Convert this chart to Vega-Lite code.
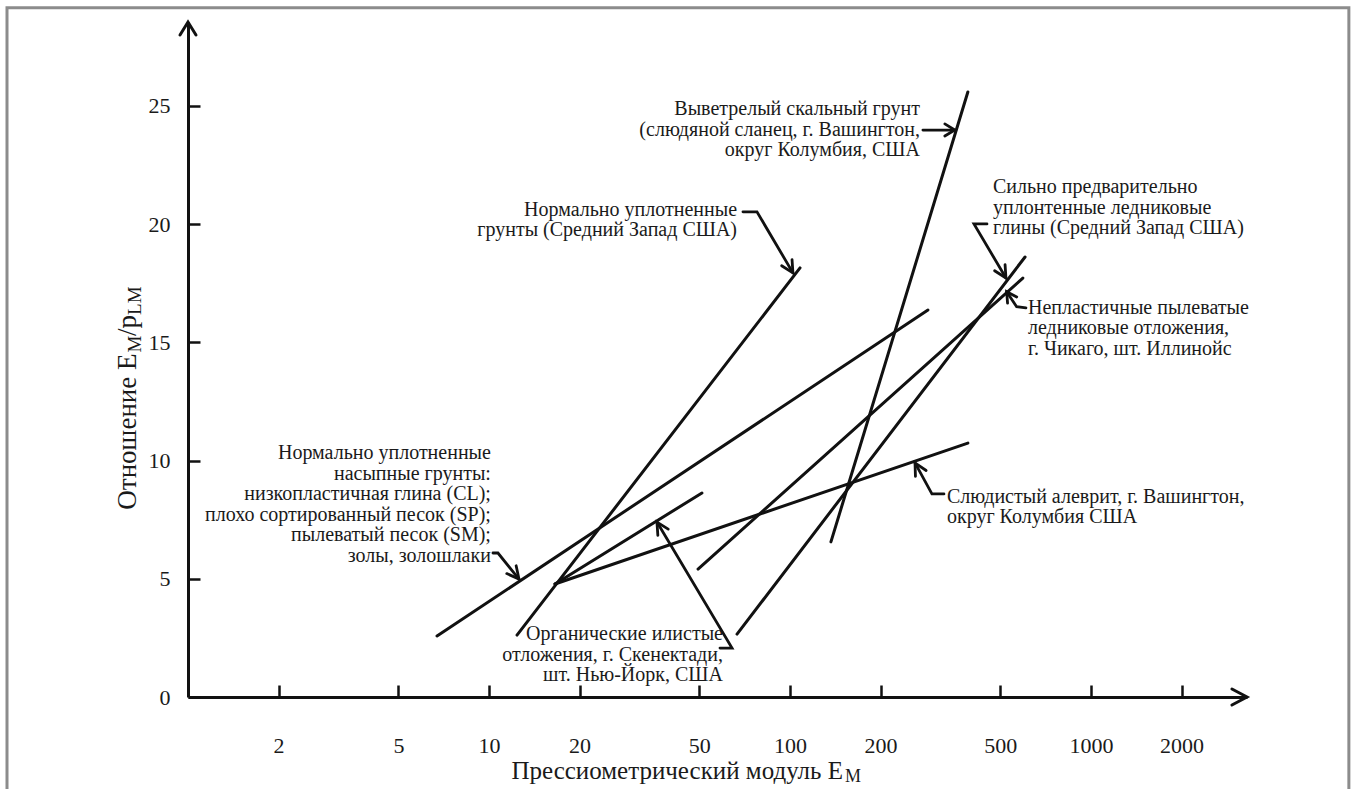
{
  "$schema": "https://vega.github.io/schema/vega-lite/v6.json",
  "width": 1059,
  "height": 675,
  "padding": {"left": 188, "top": 22, "right": 109, "bottom": 92},
  "autosize": {"type": "none"},
  "background": "white",
  "config": {
    "view": {"stroke": null},
    "font": "Liberation Serif",
    "axis": {"grid": false}
  },
  "datasets": {
    "soils": [
      {"series": "fill", "E": 6.72, "r": 2.58},
      {"series": "fill", "E": 287.4, "r": 16.37},
      {"series": "midwestNC", "E": 12.39, "r": 2.62},
      {"series": "midwestNC", "E": 108, "r": 18.15},
      {"series": "organic", "E": 16.57, "r": 4.78},
      {"series": "organic", "E": 51.0, "r": 8.63},
      {"series": "micaSilt", "E": 16.57, "r": 4.78},
      {"series": "micaSilt", "E": 390, "r": 10.74},
      {"series": "weatheredRock", "E": 136.8, "r": 6.56},
      {"series": "weatheredRock", "E": 390, "r": 25.59},
      {"series": "glacialClay", "E": 66.7, "r": 2.66},
      {"series": "glacialClay", "E": 604, "r": 18.61},
      {"series": "glacialSilt", "E": 49.5, "r": 5.41},
      {"series": "glacialSilt", "E": 594, "r": 17.72}
    ],
    "axisHeads": [
      {"id": "xHead", "i": 0, "E": 2941, "r": 0.34},
      {"id": "xHead", "i": 1, "E": 3300, "r": 0},
      {"id": "xHead", "i": 2, "E": 2941, "r": -0.34},
      {"id": "yHead", "i": 0, "E": 0.9407, "r": 28.0},
      {"id": "yHead", "i": 1, "E": 1, "r": 28.55},
      {"id": "yHead", "i": 2, "E": 1.063, "r": 28.0}
    ],
    "pointers": [
      {"id": "rock", "i": 0, "E": 276.5, "r": 23.98},
      {"id": "rock", "i": 1, "E": 353, "r": 23.98},
      {"id": "rockHead", "i": 0, "E": 327, "r": 24.24},
      {"id": "rockHead", "i": 1, "E": 353, "r": 23.98},
      {"id": "rockHead", "i": 2, "E": 327, "r": 23.73},
      {"id": "midwest", "i": 0, "E": 69.8, "r": 20.52},
      {"id": "midwest", "i": 1, "E": 77.7, "r": 20.52},
      {"id": "midwest", "i": 2, "E": 102.3, "r": 17.94},
      {"id": "midwestHead", "i": 0, "E": 101.6, "r": 18.5},
      {"id": "midwestHead", "i": 1, "E": 102.3, "r": 17.94},
      {"id": "midwestHead", "i": 2, "E": 93.85, "r": 18.24},
      {"id": "fill", "i": 0, "E": 10.31, "r": 6.09},
      {"id": "fill", "i": 1, "E": 10.71, "r": 6.09},
      {"id": "fill", "i": 2, "E": 12.58, "r": 4.99},
      {"id": "fillHead", "i": 0, "E": 12.31, "r": 5.55},
      {"id": "fillHead", "i": 1, "E": 12.58, "r": 4.99},
      {"id": "fillHead", "i": 2, "E": 11.46, "r": 5.22},
      {"id": "organic", "i": 0, "E": 58.55, "r": 2.07},
      {"id": "organic", "i": 1, "E": 64.2, "r": 2.07},
      {"id": "organic", "i": 2, "E": 36.15, "r": 7.4},
      {"id": "organicHead", "i": 0, "E": 39.4, "r": 7.1},
      {"id": "organicHead", "i": 1, "E": 36.15, "r": 7.4},
      {"id": "organicHead", "i": 2, "E": 36.4, "r": 6.84},
      {"id": "silt", "i": 0, "E": 324.8, "r": 8.59},
      {"id": "silt", "i": 1, "E": 296.3, "r": 8.59},
      {"id": "silt", "i": 2, "E": 260.3, "r": 9.9},
      {"id": "siltHead", "i": 0, "E": 283.4, "r": 9.58},
      {"id": "siltHead", "i": 1, "E": 260.3, "r": 9.9},
      {"id": "siltHead", "i": 2, "E": 261.2, "r": 9.33},
      {"id": "clay", "i": 0, "E": 451.4, "r": 20.01},
      {"id": "clay", "i": 1, "E": 408.7, "r": 20.01},
      {"id": "clay", "i": 2, "E": 522.0, "r": 17.72},
      {"id": "clayHead", "i": 0, "E": 518.4, "r": 18.29},
      {"id": "clayHead", "i": 1, "E": 522.0, "r": 17.72},
      {"id": "clayHead", "i": 2, "E": 478.6, "r": 18.03},
      {"id": "nonplastic", "i": 0, "E": 608.2, "r": 16.46},
      {"id": "nonplastic", "i": 1, "E": 566.4, "r": 16.51},
      {"id": "nonplastic", "i": 2, "E": 524.8, "r": 17.14},
      {"id": "nonplasticHead", "i": 0, "E": 566.9, "r": 16.92},
      {"id": "nonplasticHead", "i": 1, "E": 524.8, "r": 17.14},
      {"id": "nonplasticHead", "i": 2, "E": 528.4, "r": 16.66}
    ],
    "notesRight": [
      {"t": "Нормально уплотненные\nнасыпные грунты:\nнизкопластичная глина (CL);\nплохо сортированный песок (SP);\nпылеватый песок (SM);\nзолы, золошлаки", "E": 10.15, "r": 10.32},
      {"t": "Выветрелый  скальный грунт\n(слюдяной сланец, г. Вашингтон,\nокруг Колумбия, США", "E": 270.4, "r": 24.87},
      {"t": "Нормально уплотненные\nгрунты (Средний Запад США)", "E": 66.7, "r": 20.6},
      {"t": "Органические илистые\nотложения, г. Скенектади,\nшт. Нью-Йорк, США", "E": 59.9, "r": 2.66}
    ],
    "notesLeft": [
      {"t": "Сильно предварительно\nуплонтенные ледниковые\nглины (Средний Запад США)", "E": 472.6, "r": 21.57},
      {"t": "Непластичные пылеватые\nледниковые отложения,\nг. Чикаго, шт. Иллинойс", "E": 617.6, "r": 16.46},
      {"t": "Слюдистый алеврит, г. Вашингтон,\nокруг Колумбия США", "E": 332.4, "r": 8.46}
    ],
    "frame": [
      {"E": 0.2504, "E2": 7194, "r": 29.15, "r2": -4.36}
    ],
    "xTitle": [
      {"t": "Прессиометрический модуль E", "E": 150.0, "r": -3.13}
    ],
    "xTitleSub": [
      {"t": "M", "E": 152.3, "r": -3.38}
    ],
    "yTitle": [
      {"t": "Отношение E", "E": 0.632, "r": 14.53, "part": "end"},
      {"t": "/p", "E": 0.632, "r": 15.27, "part": "start"}
    ],
    "yTitleSub": [
      {"t": "M", "E": 0.6667, "r": 14.57},
      {"t": "LM", "E": 0.6667, "r": 16.16}
    ]
  },
  "encoding": {
    "x": {
      "field": "E",
      "type": "quantitative",
      "scale": {"type": "log", "domain": [1, 3300]},
      "axis": {
        "values": [2, 5, 10, 20, 50, 100, 200, 500, 1000, 2000],
        "format": "d",
        "title": null,
        "domainColor": "#111111",
        "domainWidth": 3,
        "tickColor": "#111111",
        "tickWidth": 2.5,
        "tickSize": -12,
        "labelPadding": 50,
        "labelFont": "Liberation Serif",
        "labelFontSize": 22,
        "labelColor": "#1a1a1a",
        "labelFlush": false,
        "labelOverlap": false
      }
    },
    "y": {
      "field": "r",
      "type": "quantitative",
      "scale": {"domain": [0, 28.55]},
      "axis": {
        "values": [0, 5, 10, 15, 20, 25],
        "title": null,
        "domainColor": "#111111",
        "domainWidth": 3,
        "tickColor": "#111111",
        "tickWidth": 2.5,
        "tickSize": -12,
        "labelPadding": 30,
        "labelFont": "Liberation Serif",
        "labelFontSize": 22,
        "labelColor": "#1a1a1a",
        "labelFlush": false,
        "labelOverlap": false
      }
    }
  },
  "layer": [
    {
      "data": {"name": "frame"},
      "mark": {"type": "rect", "fill": null, "stroke": "#8c8c8c", "strokeWidth": 3},
      "encoding": {
        "x2": {"field": "E2"},
        "y2": {"field": "r2"}
      }
    },
    {
      "data": {"name": "axisHeads"},
      "mark": {"type": "line", "color": "#111111", "strokeWidth": 3, "strokeCap": "round", "strokeJoin": "miter"},
      "encoding": {
        "detail": {"field": "id"},
        "order": {"field": "i"}
      }
    },
    {
      "data": {"name": "soils"},
      "mark": {"type": "line", "color": "#111111", "strokeWidth": 3, "strokeCap": "round"},
      "encoding": {
        "detail": {"field": "series"}
      }
    },
    {
      "data": {"name": "pointers"},
      "mark": {"type": "line", "color": "#111111", "strokeWidth": 2.8, "strokeCap": "round", "strokeJoin": "miter"},
      "encoding": {
        "detail": {"field": "id"},
        "order": {"field": "i"}
      }
    },
    {
      "data": {"name": "notesRight"},
      "mark": {"type": "text", "align": "right", "baseline": "middle", "lineBreak": "\n", "font": "Liberation Serif", "fontSize": 20, "lineHeight": 20.5, "color": "#1a1a1a"},
      "encoding": {"text": {"field": "t"}}
    },
    {
      "data": {"name": "notesLeft"},
      "mark": {"type": "text", "align": "left", "baseline": "middle", "lineBreak": "\n", "font": "Liberation Serif", "fontSize": 20, "lineHeight": 20.5, "color": "#1a1a1a"},
      "encoding": {"text": {"field": "t"}}
    },
    {
      "data": {"name": "xTitle"},
      "mark": {"type": "text", "align": "right", "baseline": "middle", "font": "Liberation Serif", "fontSize": 25, "color": "#1a1a1a"},
      "encoding": {"text": {"field": "t"}}
    },
    {
      "data": {"name": "xTitleSub"},
      "mark": {"type": "text", "align": "left", "baseline": "middle", "font": "Liberation Serif", "fontSize": 18, "color": "#1a1a1a"},
      "encoding": {"text": {"field": "t"}}
    },
    {
      "data": {"name": "yTitle"},
      "transform": [{"filter": "datum.part === 'end'"}],
      "mark": {"type": "text", "align": "right", "baseline": "middle", "angle": 270, "font": "Liberation Serif", "fontSize": 27, "color": "#1a1a1a"},
      "encoding": {"text": {"field": "t"}}
    },
    {
      "data": {"name": "yTitle"},
      "transform": [{"filter": "datum.part === 'start'"}],
      "mark": {"type": "text", "align": "left", "baseline": "middle", "angle": 270, "font": "Liberation Serif", "fontSize": 27, "color": "#1a1a1a"},
      "encoding": {"text": {"field": "t"}}
    },
    {
      "data": {"name": "yTitleSub"},
      "mark": {"type": "text", "align": "left", "baseline": "middle", "angle": 270, "font": "Liberation Serif", "fontSize": 19, "color": "#1a1a1a"},
      "encoding": {"text": {"field": "t"}}
    }
  ]
}
